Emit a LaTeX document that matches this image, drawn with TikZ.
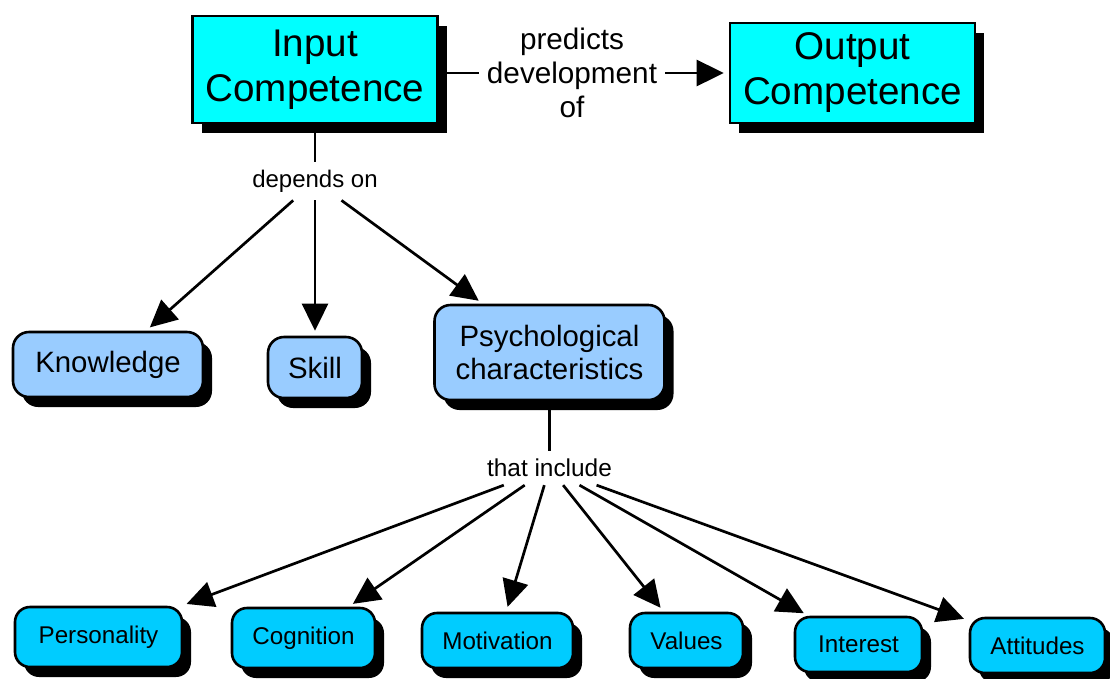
\documentclass[tikz,border=0pt]{standalone}
\usepackage{fontspec}
\setmainfont{Liberation Sans}
\usetikzlibrary{shadows,arrows.meta}

\definecolor{compcyan}{RGB}{0,255,255}
\definecolor{midblue}{RGB}{153,204,255}
\definecolor{lowblue}{RGB}{0,204,255}

\tikzset{
  conceptbox/.style={draw=black, line width=2.6pt, text=black, align=center, inner sep=0pt,
    drop shadow={shadow xshift=9pt, shadow yshift=-10pt, fill=black, opacity=1}},
  topbox/.style={conceptbox, fill=compcyan, font=\fontsize{38.6}{45}\selectfont},
  midbox/.style={conceptbox, fill=midblue, rounded corners=16pt, font=\fontsize{29.4}{33}\selectfont},
  lowbox/.style={conceptbox, fill=lowblue, rounded corners=15pt, font=\fontsize{24.2}{28}\selectfont},
  linkphrase/.style={align=center, inner xsep=8pt, inner ysep=8pt, text=black},
  conn/.style={line width=2.7pt, draw=black},
  arr/.style={conn, -{Triangle[length=27pt,width=26pt]}, shorten >=5pt},
}

\begin{document}
\begin{tikzpicture}[x=1pt, y=-1pt]
  \useasboundingbox (0,0) rectangle (1110,678);

  % top level concepts
  \node[topbox, minimum width=245pt, minimum height=107pt] (in) at (315,69.5) {Input\\Competence};
  \node[topbox, minimum width=245pt, minimum height=100pt] (out) at (852.5,73) {Output\\Competence};
  \node[linkphrase, font=\fontsize{29.7}{34}\selectfont] (pred) at (572,73) {predicts\\development\\of};

  % what input competence depends on
  \node[linkphrase, font=\fontsize{24}{28}\selectfont] (dep) at (315,181) {depends on};
  \node[midbox, minimum width=190pt, minimum height=65pt] (know) at (108,364.5) {Knowledge};
  \node[midbox, minimum width=94pt, minimum height=61pt] (skill) at (315,367.5) {Skill};
  \node[midbox, minimum width=230pt, minimum height=95pt] (psych) at (549.5,352.5) {Psychological\\characteristics};

  % psychological characteristics
  \node[linkphrase, font=\fontsize{24.4}{28}\selectfont] (inc) at (549.5,468) {that include};
  \node[lowbox, minimum width=167pt, minimum height=60pt] (pers) at (98.5,637) {Personality};
  \node[lowbox, minimum width=143pt, minimum height=60pt] (cogn) at (303.5,638) {Cognition};
  \node[lowbox, minimum width=151pt, minimum height=55pt] (moti) at (497.5,640.5) {Motivation};
  \node[lowbox, minimum width=113pt, minimum height=55pt] (valu) at (686.5,640.5) {Values};
  \node[lowbox, minimum width=127pt, minimum height=55pt] (inte) at (858.5,644.5) {Interest};
  \node[lowbox, minimum width=135pt, minimum height=55pt] (atti) at (1037.5,645.5) {Attitudes};

  % connectors
  \draw[conn] (in.east |- pred) -- (pred);
  \draw[arr] (pred) -- (out.west |- pred);

  \draw[conn] (in) -- (dep);
  \draw[arr] (dep) -- (know);
  \draw[arr] (dep) -- (skill);
  \draw[arr] (dep) -- (psych);

  \draw[conn] (psych) -- (inc);
  \draw[arr] (inc) -- (pers);
  \draw[arr] (inc) -- (cogn);
  \draw[arr] (inc) -- (moti);
  \draw[arr] (inc) -- (valu);
  \draw[arr] (inc) -- (inte);
  \draw[arr] (inc) -- (atti);
\end{tikzpicture}
\end{document}
